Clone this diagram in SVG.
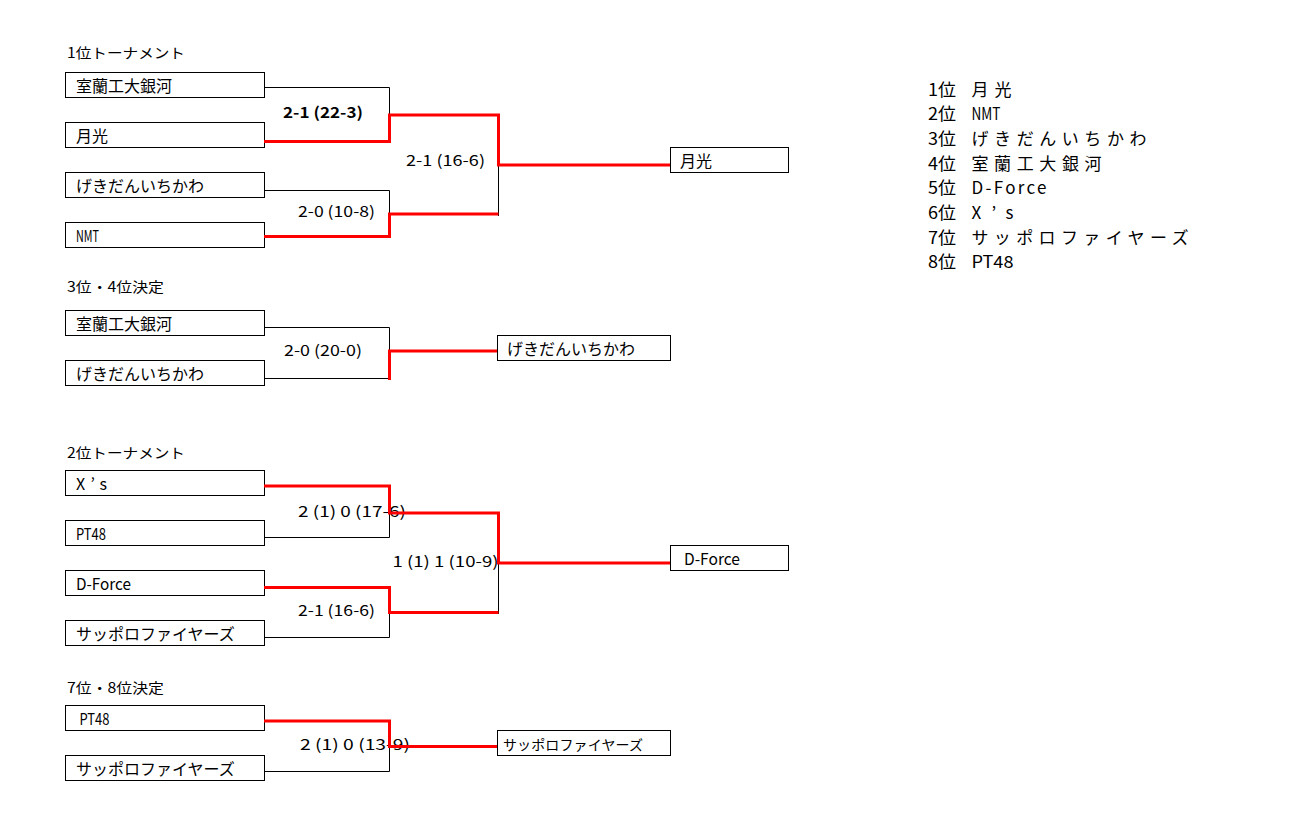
<svg xmlns="http://www.w3.org/2000/svg" width="1302" height="818" viewBox="0 0 1302 818">
<style>
text{font-family:"Noto Sans CJK JP","Noto Sans",sans-serif;fill:#000}
.box{fill:#fff;stroke:#000;stroke-width:1}
.bt{font-size:16px}
.tt{font-size:14px}
.sc{font-size:15px}
.rk{font-size:17px}
.bl{fill:none;stroke:#000;stroke-width:1}
.rd{fill:none;stroke:#f00;stroke-width:3;stroke-linejoin:miter}
</style>
<rect width="1302" height="818" fill="#fff"/>
<g id="titles">
<text class="tt" x="67" y="57.5" textLength="118" lengthAdjust="spacingAndGlyphs">1位トーナメント</text>
<text class="tt" x="67" y="291.5" textLength="97" lengthAdjust="spacingAndGlyphs">3位・4位決定</text>
<text class="tt" x="67" y="458" textLength="118" lengthAdjust="spacingAndGlyphs">2位トーナメント</text>
<text class="tt" x="67" y="692.5" textLength="97" lengthAdjust="spacingAndGlyphs">7位・8位決定</text>
</g>
<g id="ranking">
<text class="rk" x="928" y="95.5" textLength="28" lengthAdjust="spacingAndGlyphs">1位</text>
<text class="rk" x="971.5" y="95.5" textLength="40" lengthAdjust="spacing">月光</text>
<text class="rk" x="928" y="120.2" textLength="28" lengthAdjust="spacingAndGlyphs">2位</text>
<text class="rk" x="971.5" y="120.2" textLength="29" lengthAdjust="spacingAndGlyphs">NMT</text>
<text class="rk" x="928" y="144.9" textLength="28" lengthAdjust="spacingAndGlyphs">3位</text>
<text class="rk" x="971.5" y="144.9" textLength="175" lengthAdjust="spacing">げきだんいちかわ</text>
<text class="rk" x="928" y="169.6" textLength="28" lengthAdjust="spacingAndGlyphs">4位</text>
<text class="rk" x="971.5" y="169.6" textLength="130" lengthAdjust="spacing">室蘭工大銀河</text>
<text class="rk" x="928" y="194.3" textLength="28" lengthAdjust="spacingAndGlyphs">5位</text>
<text class="rk" x="971.5" y="194.3" textLength="75" lengthAdjust="spacing">D-Force</text>
<text class="rk" x="928" y="219" textLength="28" lengthAdjust="spacingAndGlyphs">6位</text>
<text class="rk" x="971.5" y="219" textLength="42" lengthAdjust="spacing">X’s</text>
<text class="rk" x="928" y="243.7" textLength="28" lengthAdjust="spacingAndGlyphs">7位</text>
<text class="rk" x="971.5" y="243.7" textLength="217" lengthAdjust="spacing">サッポロファイヤーズ</text>
<text class="rk" x="928" y="268.4" textLength="28" lengthAdjust="spacingAndGlyphs">8位</text>
<text class="rk" x="971.5" y="268.4" textLength="42" lengthAdjust="spacingAndGlyphs">PT48</text>
</g>
<g id="s1-muroran"><rect class="box" x="65.5" y="72.5" width="199" height="25"/><text class="bt" x="76" y="92">室蘭工大銀河</text></g>
<g id="s1-gekko"><rect class="box" x="65.5" y="122.5" width="199" height="25"/><text class="bt" x="76" y="142">月光</text></g>
<g id="s1-gekidan"><rect class="box" x="65.5" y="172.5" width="199" height="25"/><text class="bt" x="76" y="192">げきだんいちかわ</text></g>
<g id="s1-nmt"><rect class="box" x="65.5" y="222.5" width="199" height="25"/><text class="bt" x="76" y="242" textLength="23" lengthAdjust="spacingAndGlyphs">NMT</text></g>
<g id="s1-winner"><rect class="box" x="670.5" y="147.5" width="118" height="25"/><text class="bt" x="680" y="167">月光</text></g>
<g id="s2-muroran"><rect class="box" x="65.5" y="310.5" width="199" height="25"/><text class="bt" x="76" y="330">室蘭工大銀河</text></g>
<g id="s2-gekidan"><rect class="box" x="65.5" y="360.5" width="199" height="25"/><text class="bt" x="76" y="380">げきだんいちかわ</text></g>
<g id="s2-winner"><rect class="box" x="497.5" y="335.5" width="173" height="25"/><text class="bt" x="507" y="355">げきだんいちかわ</text></g>
<g id="s3-xs"><rect class="box" x="65.5" y="470.5" width="199" height="25"/><text class="bt" x="76" y="490" textLength="31" lengthAdjust="spacing">X’s</text></g>
<g id="s3-pt48"><rect class="box" x="65.5" y="520.5" width="199" height="25"/><text class="bt" x="76" y="540" textLength="30" lengthAdjust="spacingAndGlyphs">PT48</text></g>
<g id="s3-dforce"><rect class="box" x="65.5" y="570.5" width="199" height="25"/><text class="bt" x="76" y="590" textLength="55" lengthAdjust="spacingAndGlyphs">D-Force</text></g>
<g id="s3-sapporo"><rect class="box" x="65.5" y="620.5" width="199" height="25"/><text class="bt" x="76" y="640">サッポロファイヤーズ</text></g>
<g id="s3-winner"><rect class="box" x="670.5" y="545.5" width="118" height="25"/><text class="bt" x="684" y="565" textLength="56" lengthAdjust="spacingAndGlyphs">D-Force</text></g>
<g id="s4-pt48"><rect class="box" x="65.5" y="705.5" width="199" height="25"/><text class="bt" x="79.5" y="725" textLength="30" lengthAdjust="spacingAndGlyphs">PT48</text></g>
<g id="s4-sapporo"><rect class="box" x="65.5" y="755.5" width="199" height="25"/><text class="bt" x="76" y="775">サッポロファイヤーズ</text></g>
<g id="s4-winner"><rect class="box" x="497.5" y="730.5" width="173" height="25"/><text x="503" y="749.5" font-size="14" textLength="140" lengthAdjust="spacing">サッポロファイヤーズ</text></g>
<g id="scores">
<text class="sc" x="283" y="118" font-weight="bold" textLength="80" lengthAdjust="spacingAndGlyphs">2-1 (22-3)</text>
<text class="sc" x="406" y="166" textLength="79" lengthAdjust="spacingAndGlyphs">2-1 (16-6)</text>
<text class="sc" x="298" y="217" textLength="77" lengthAdjust="spacingAndGlyphs">2-0 (10-8)</text>
<text class="sc" x="284" y="356" textLength="78" lengthAdjust="spacingAndGlyphs">2-0 (20-0)</text>
<text class="sc" x="298" y="517" textLength="108" lengthAdjust="spacingAndGlyphs">2 (1) 0 (17-6)</text>
<text class="sc" x="392.5" y="567" textLength="106" lengthAdjust="spacingAndGlyphs">1 (1) 1 (10-9)</text>
<text class="sc" x="298" y="616" textLength="77" lengthAdjust="spacingAndGlyphs">2-1 (16-6)</text>
<text class="sc" x="300" y="750" textLength="110" lengthAdjust="spacingAndGlyphs">2 (1) 0 (13-9)</text>
</g>
<g id="connectors">
<path class="bl" d="M264 87.5 H389.5 V115"/>
<path class="bl" d="M264 190.5 H389.5 V214"/>
<path class="bl" d="M498.5 165 V216"/>
<path class="rd" d="M264 141.5 H389.5 V115 H498.5 V165 H670"/>
<path class="rd" d="M264 236.5 H389.5 V214 H498.5"/>
<path class="bl" d="M264 327.5 H389.5 V378.5 H264"/>
<path class="rd" d="M389.5 380 V351 H497"/>
<path class="bl" d="M264 537.5 H389.5 V513"/>
<path class="bl" d="M264 637.5 H389.5 V612.5"/>
<path class="bl" d="M498.5 563 V614"/>
<path class="rd" d="M264 486 H389.5 V513 H498.5 V563 H670"/>
<path class="rd" d="M264 587.5 H389.5 V612.5 H498.5"/>
<path class="bl" d="M264 771.5 H389.5 V746.5"/>
<path class="rd" d="M264 721 H389.5 V746.5 H497"/>
</g>
</svg>
